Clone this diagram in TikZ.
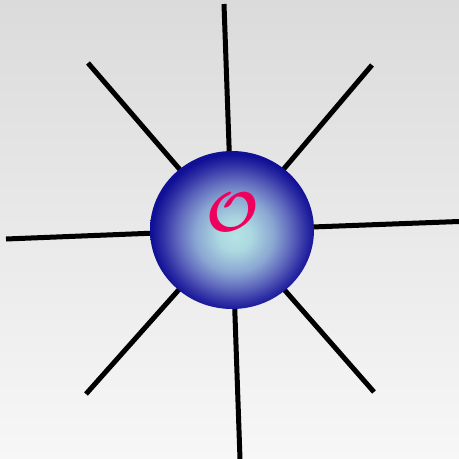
\RequirePackage{fix-cm}
\documentclass[tikz,border=0pt]{standalone}
\usepackage{amsmath, amssymb, bm}
\usepackage{tikz}
\usetikzlibrary{calc, positioning, shapes.geometric}
\usepackage{xcolor}
\definecolor{bgTop}{RGB}{219, 219, 219}
\definecolor{bgBot}{RGB}{247, 247, 247}
\definecolor{ballIn}{RGB}{180, 228, 228}
\definecolor{ballA}{RGB}{172, 216, 224}
\definecolor{ballB}{RGB}{138, 166, 210}
\definecolor{ballC}{RGB}{98, 108, 190}
\definecolor{ballD}{RGB}{46, 46, 164}
\definecolor{ballOut}{RGB}{16, 16, 150}
\definecolor{symRed}{RGB}{238, 0, 92}
\pgfdeclareradialshading{ballshade}{\pgfpoint{1bp}{-2bp}}{%
  color(0bp)=(ballIn);
  color(5bp)=(ballA);
  color(12bp)=(ballB);
  color(17bp)=(ballC);
  color(22bp)=(ballD);
  color(25bp)=(ballOut);
  color(50bp)=(ballOut)}

\begin{document}
\begin{tikzpicture}[
    x=1pt, y=-1pt,
    spoke_style/.style={line width=5pt, black, line cap=butt},
    ball_style/.style={ellipse, inner sep=0pt, minimum width=164pt,
      minimum height=158pt, shading=ballshade},
    sym_style/.style={inner sep=0pt, text=symRed,
      font=\fontsize{56}{60}\selectfont}
]
    % --- Fond ---
    \useasboundingbox (0,0) rectangle (459,459);
    \fill[top color=bgTop, bottom color=bgBot] (0,0) rectangle (459,459);

    % --- Centre et extremites des rayons ---
    \coordinate (c) at (232,230);
    \coordinate (n)  at (224,4);
    \coordinate (s)  at (240,459);
    \coordinate (w)  at (6,239);
    \coordinate (e)  at (459,221.5);
    \coordinate (nw) at (88,63);
    \coordinate (ne) at (372,65);
    \coordinate (sw) at (86,394);
    \coordinate (se) at (374,392);

    % --- Rayons ---
    \foreach \p in {n,s,w,e,nw,ne,sw,se}{
      \draw[spoke_style] (c) -- (\p);
    }

    % --- Sphere ---
    \node[ball_style] (ball) at (c) {};
    \node[sym_style] (sym) at (233,212) {$\bm{\mathcal{O}}$};

\end{tikzpicture}
\end{document}
